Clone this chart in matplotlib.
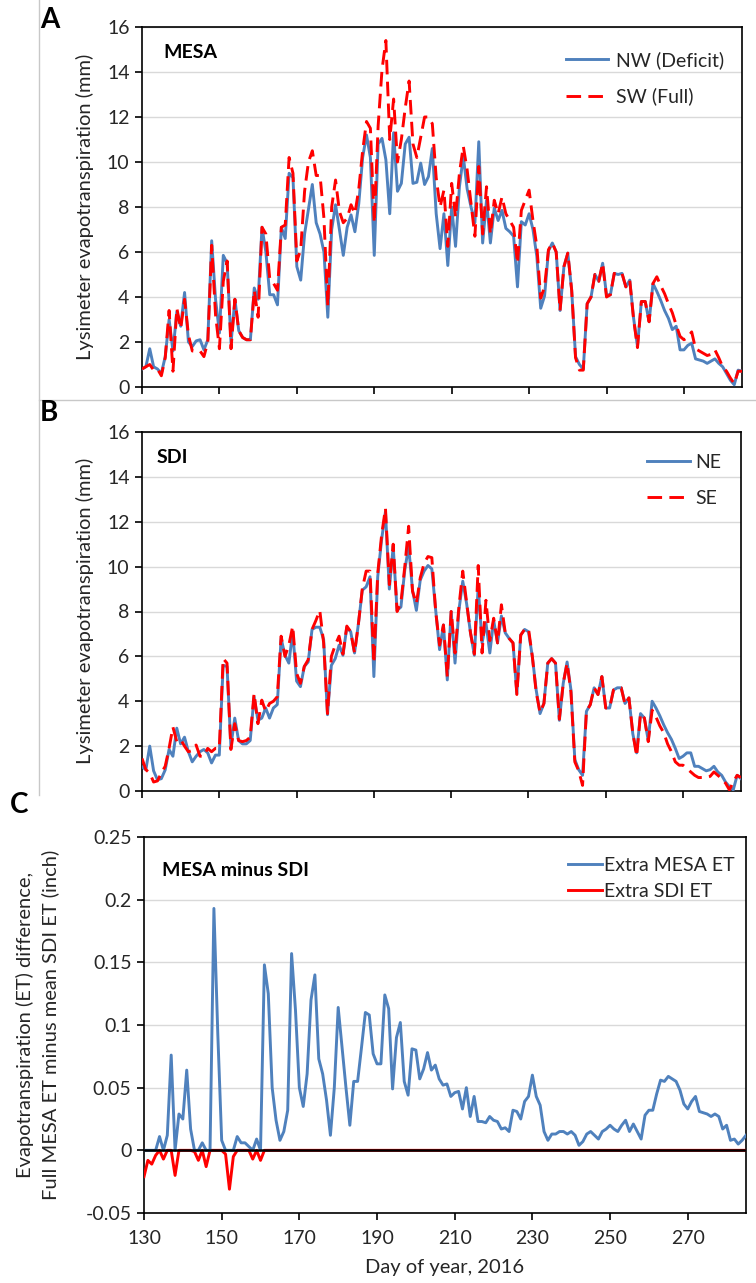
import matplotlib
matplotlib.use("Agg")
import numpy as np
import matplotlib.pyplot as plt
from matplotlib.lines import Line2D

# day of year 130..285
days = list(range(130, 286))

# panel A, MESA lysimeters (mm)
nw_deficit = [
    0.8, 0.9, 1.7, 0.9, 0.8, 0.6, 1.35, 3.0, 1.6, 3.35,
    2.7, 4.2, 2.0, 1.8, 2.05, 2.1, 1.65, 2.1, 6.5, 3.9,
    2.4, 5.85, 5.5, 1.95, 3.9, 2.5, 2.2, 2.1, 2.1, 4.4,
    3.9, 7.1, 6.0, 4.1, 4.1, 3.65, 7.1, 6.6, 9.5, 9.3,
    5.35, 4.75, 6.8, 7.9, 9.0, 7.3, 6.8, 6.0, 3.1, 7.0,
    8.1, 7.0, 5.85, 7.1, 7.65, 6.9, 8.15, 10.2, 11.2, 10.2,
    5.85, 10.8, 11.05, 10.1, 7.7, 11.3, 8.7, 9.05, 10.8, 11.1,
    9.05, 9.1, 9.95, 9.0, 9.35, 10.6, 7.7, 6.15, 7.7, 5.4,
    8.0, 6.25, 8.9, 10.25, 8.8, 8.0, 7.3, 10.9, 6.4, 8.3,
    6.4, 7.95, 7.4, 7.85, 7.05, 6.9, 6.7, 4.45, 7.35, 7.2,
    7.7, 7.0, 5.8, 3.5, 4.05, 6.05, 6.4, 6.0, 3.4, 5.35,
    5.95, 4.3, 1.35, 1.0, 0.8, 3.7, 4.0, 5.0, 4.7, 5.5,
    4.1, 4.1, 5.05, 5.0, 5.05, 4.45, 4.75, 3.05, 1.8, 3.8,
    3.8, 2.9, 4.6, 4.25, 3.85, 3.4, 3.05, 2.55, 2.7, 1.65,
    1.65, 1.85, 1.95, 1.25, 1.2, 1.15, 1.05, 1.15, 1.25, 1.05,
    0.9, 0.6, 0.3, 0.1, 0.75, 0.7]
sw_full = [
    0.8, 0.9, 1.0, 0.75, 0.8, 0.5, 1.3, 3.4, 0.7, 3.5,
    2.6, 3.9, 2.3, 1.6, 1.6, 1.6, 1.35, 2.0, 6.3, 3.2,
    1.7, 4.7, 5.6, 1.7, 3.9, 2.5, 2.2, 2.1, 2.1, 4.3,
    3.1, 7.1, 6.8, 4.8, 4.6, 4.3, 7.1, 7.2, 10.2, 9.5,
    5.6, 6.1, 8.7, 10.0, 10.5, 9.4, 9.4, 7.5, 3.6, 8.0,
    9.2, 7.8, 7.3, 7.5, 8.1, 7.7, 8.8, 10.5, 11.8, 11.5,
    7.3, 11.6, 14.1, 15.4, 11.0, 12.8, 10.0, 11.0, 12.4, 13.6,
    10.8, 10.2, 11.1, 12.0, 12.0, 11.7, 9.3, 8.0, 8.75, 6.25,
    9.05, 7.55, 9.5, 10.7, 9.65, 8.15, 6.7, 9.8, 6.8, 8.9,
    6.8, 8.3, 7.7, 8.45, 7.7, 7.4, 7.1, 5.5, 7.85, 8.3,
    8.75, 7.4, 6.25, 3.95, 4.45, 6.1, 6.4, 6.0, 3.4, 5.35,
    5.95, 4.3, 1.3, 0.75, 0.75, 3.7, 4.0, 5.0, 4.7, 5.5,
    4.0, 4.1, 5.05, 5.0, 5.05, 4.45, 4.75, 3.0, 1.75, 3.8,
    3.8, 2.9, 4.6, 4.9, 4.5, 4.15, 3.7, 3.3, 2.75, 2.25,
    2.1, 2.2, 2.45, 1.7, 1.6, 1.5, 1.4, 1.45, 1.65, 1.3,
    0.9, 0.7, 0.4, 0.15, 0.7, 0.7]

# panel B, SDI lysimeters (mm)
ne = [
    1.08, 0.95, 2.0, 0.9, 0.5, 0.55, 0.94, 1.85, 1.55, 2.8,
    2.1, 2.4, 1.75, 1.3, 1.55, 1.75, 1.85, 1.7, 1.25, 1.6,
    1.6, 5.6, 5.55, 2.0, 3.25, 2.25, 2.1, 2.1, 2.25, 4.2,
    3.15, 3.25, 3.7, 3.25, 3.7, 3.85, 6.8, 6.05, 5.7, 7.1,
    4.9, 4.65, 5.55, 5.75, 7.2, 7.3, 7.3, 6.75, 3.4, 5.6,
    5.9, 6.5, 6.05, 7.3, 7.1, 6.15, 7.45, 8.95, 9.1, 9.55,
    5.1, 9.55, 11.2, 12.45, 9.0, 10.9, 8.05, 8.2, 9.85, 10.9,
    8.95, 8.05, 9.4, 9.8, 10.05, 9.9, 8.05, 6.3, 7.4, 4.95,
    8.0, 5.7, 8.05, 9.35, 8.35, 7.05, 6.05, 9.1, 6.6, 7.5,
    6.15, 7.6, 6.6, 7.8, 7.05, 6.8, 6.6, 4.35, 6.95, 7.2,
    7.1, 6.0, 4.5, 3.45, 3.9, 5.7, 5.9, 5.7, 3.15, 4.8,
    5.75, 4.5, 1.4, 0.95, 0.7, 3.55, 3.85, 4.6, 4.3, 5.1,
    3.7, 3.7, 4.5, 4.6, 4.6, 3.9, 4.15, 2.55, 1.7, 3.45,
    3.25, 2.25, 4.0, 3.7, 3.35, 2.95, 2.6, 2.3, 1.9, 1.45,
    1.55, 1.7, 1.7, 1.1, 1.1, 1.0, 0.9, 0.95, 1.1, 0.85,
    0.7, 0.4, 0.2, 0.05, 0.7, 0.55]
se = [
    1.45, 0.95, 0.8, 0.4, 0.45, 0.8, 1.1, 1.9, 2.85, 2.2,
    2.3, 2.0, 1.75, 1.8, 2.05, 1.55, 1.55, 1.9, 1.75, 1.9,
    1.9, 5.9, 5.7, 1.85, 3.0, 2.25, 2.2, 2.25, 2.4, 4.35,
    3.0, 4.05, 3.55, 3.9, 4.0, 4.2, 6.9, 6.0, 6.5, 7.35,
    5.25, 4.8, 5.55, 5.85, 7.2, 7.6, 8.05, 6.6, 3.45, 6.0,
    6.5, 6.9, 6.1, 7.35, 7.1, 6.15, 7.45, 9.0, 9.8, 9.8,
    5.7, 9.7, 11.4, 12.6, 9.2, 11.0, 8.0, 8.4, 10.0, 11.8,
    8.9, 8.35, 9.5, 10.15, 10.45, 10.4, 8.0, 6.5, 7.4, 5.1,
    8.0, 6.15, 8.2, 9.8, 8.4, 7.05, 6.1, 10.05, 6.15, 8.5,
    6.7, 7.7, 6.6, 8.3, 7.05, 6.8, 6.6, 4.3, 6.95, 7.2,
    7.25, 6.0, 4.4, 3.5, 3.9, 5.7, 5.9, 5.7, 3.2, 4.8,
    5.7, 4.4, 1.3, 0.9, 0.25, 3.55, 3.85, 4.6, 4.3, 5.1,
    3.7, 3.7, 4.5, 4.6, 4.6, 3.85, 4.15, 2.6, 1.55, 3.45,
    3.25, 2.2, 3.6, 3.3, 2.9, 2.6, 2.1, 1.75, 1.3, 1.15,
    1.15, 1.0, 0.85, 0.7, 0.6, 0.6, 0.6, 0.65, 0.85, 0.7,
    0.55, 0.35, 0.05, 0.4, 0.7, 0.6]

# panel C, full MESA minus mean SDI (inch)
diff_inch = [
    -0.021, -0.008, -0.011, -0.004, 0.011, -0.007, 0.012, 0.076, -0.020, 0.029,
    0.025, 0.064, 0.017, -0.001, -0.008, 0.006, -0.013, 0.0, 0.193, 0.093,
    0.008, -0.003, -0.031, -0.005, 0.011, 0.006, 0.006, 0.003, -0.007, 0.009,
    -0.008, 0.148, 0.125, 0.050, 0.024, 0.008, 0.015, 0.032, 0.157, 0.112,
    0.050, 0.035, 0.061, 0.120, 0.140, 0.073, 0.061, 0.040, 0.012, 0.050,
    0.114, 0.082, 0.050, 0.020, 0.055, 0.055, 0.082, 0.110, 0.108, 0.077,
    0.069, 0.069, 0.124, 0.113, 0.049, 0.090, 0.102, 0.055, 0.044, 0.081,
    0.080, 0.057, 0.065, 0.078, 0.064, 0.068, 0.057, 0.052, 0.053, 0.043,
    0.046, 0.047, 0.033, 0.050, 0.027, 0.043, 0.023, 0.023, 0.022, 0.027,
    0.024, 0.023, 0.017, 0.018, 0.015, 0.032, 0.031, 0.025, 0.039, 0.043,
    0.060, 0.043, 0.036, 0.015, 0.008, 0.013, 0.013, 0.015, 0.015, 0.013,
    0.015, 0.012, 0.004, 0.007, 0.013, 0.015, 0.012, 0.009, 0.015, 0.017,
    0.020, 0.017, 0.015, 0.020, 0.024, 0.015, 0.021, 0.015, 0.009, 0.028,
    0.032, 0.032, 0.045, 0.056, 0.055, 0.059, 0.057, 0.055, 0.048, 0.037,
    0.033, 0.039, 0.043, 0.031, 0.030, 0.029, 0.027, 0.029, 0.027, 0.017,
    0.020, 0.008, 0.009, 0.005, 0.008, 0.012]

extra_mesa = np.clip(diff_inch, 0, None)
extra_sdi = np.clip(diff_inch, None, 0)

BLUE = "#4F81BD"
RED = "#FF0000"
GRID = "#D9D9D9"
TXT = "#262626"
FS = 14
DASH = (0, (5, 2.5))

plt.rcParams["font.family"] = ["Lato", "DejaVu Sans"]
plt.rcParams["font.size"] = FS

W, H = 756, 1283
fig = plt.figure(figsize=(W / 100, H / 100), dpi=100)


def px_axes(left, top, right, bottom):
    return fig.add_axes([left / W, 1 - bottom / H, (right - left) / W, (bottom - top) / H])


def fx(x):
    return x / W


def fy(y):
    return 1 - y / H


def style(ax, yticks, ylim, show_xlabels):
    ax.set_xlim(130, 285)
    ax.set_ylim(*ylim)
    ax.set_xticks(range(130, 271, 20))
    ax.set_yticks(yticks)
    ax.grid(axis="y", color=GRID, lw=1.0)
    ax.set_axisbelow(True)
    for s in ax.spines.values():
        s.set_color("black")
        s.set_linewidth(1.2)
    ax.tick_params(axis="both", direction="out", length=5, width=1.2,
                   colors="black", labelcolor=TXT, labelsize=FS)
    ax.tick_params(axis="y", pad=4)
    ax.tick_params(axis="x", pad=7)
    if not show_xlabels:
        ax.tick_params(axis="x", labelbottom=False)


# ---- panel A
axA = px_axes(142, 27, 742, 387)
style(axA, range(0, 17, 2), (0, 16), False)
axA.plot(days, nw_deficit, color=BLUE, lw=2.1, label="NW (Deficit)", zorder=3)
axA.plot(days, sw_full, color=RED, lw=2.1, ls=DASH, label="SW (Full)", zorder=4)
axA.text(0.035, 0.93, "MESA", transform=axA.transAxes, fontsize=FS,
         fontweight="bold", va="center", ha="left", color="black")
axA.legend(loc="upper left", bbox_to_anchor=(0.69, 0.96), frameon=False,
           handlelength=2.2, handletextpad=0.4, labelspacing=0.95, borderpad=0,
           fontsize=FS, labelcolor=TXT)

# ---- panel B
axB = px_axes(142, 432, 741, 791)
style(axB, range(0, 17, 2), (0, 16), False)
axB.plot(days, ne, color=BLUE, lw=2.1, label="NE", zorder=3)
axB.plot(days, se, color=RED, lw=2.1, ls=DASH, label="SE", zorder=4)
axB.text(0.025, 0.93, "SDI", transform=axB.transAxes, fontsize=FS,
         fontweight="bold", va="center", ha="left", color="black")
axB.legend(loc="upper left", bbox_to_anchor=(0.827, 0.965), frameon=False,
           handlelength=2.2, handletextpad=0.3, labelspacing=0.95, borderpad=0,
           fontsize=FS, labelcolor=TXT)

# ---- panel C
axC = px_axes(144, 837, 746, 1213)
yt = [-0.05, 0, 0.05, 0.1, 0.15, 0.2, 0.25]
style(axC, yt, (-0.05, 0.25), True)
axC.set_yticklabels(["-0.05", "0", "0.05", "0.1", "0.15", "0.2", "0.25"])
axC.plot(days, extra_sdi, color=RED, lw=2.1, label="Extra SDI ET", zorder=3)
axC.plot(days, extra_mesa, color=BLUE, lw=2.1, label="Extra MESA ET", zorder=3)
axC.axhline(0, color="black", lw=1.8, zorder=4)
axC.text(0.03, 0.91, "MESA minus SDI", transform=axC.transAxes, fontsize=FS,
         fontweight="bold", va="center", ha="left", color="black")
hC = [Line2D([], [], color=BLUE, lw=2.1), Line2D([], [], color=RED, lw=2.1)]
axC.legend(hC, ["Extra MESA ET", "Extra SDI ET"], loc="upper left",
           bbox_to_anchor=(0.688, 0.972), frameon=False, handlelength=1.75,
           handletextpad=0.1, labelspacing=0.45, borderpad=0, fontsize=FS,
           labelcolor=TXT)

# axis titles
fig.text(fx(85), fy(207), "Lysimeter evapotranspiration (mm)", rotation=90,
         ha="center", va="center", fontsize=14.5, color=TXT)
fig.text(fx(85), fy(611), "Lysimeter evapotranspiration (mm)", rotation=90,
         ha="center", va="center", fontsize=14.5, color=TXT)
fig.text(fx(25), fy(1025), "Evapotranspiration (ET) difference,", rotation=90,
         ha="center", va="center", fontsize=14.5, color=TXT)
fig.text(fx(50), fy(1025), "Full MESA ET minus mean SDI ET (inch)", rotation=90,
         ha="center", va="center", fontsize=14.5, color=TXT)
fig.text(fx(445), fy(1267), "Day of year, 2016", ha="center", va="center",
         fontsize=14.5, color=TXT)

# panel letters
fig.text(fx(40), fy(20), "A", fontsize=20, fontweight="bold", ha="left", va="center")
fig.text(fx(40), fy(413), "B", fontsize=20, fontweight="bold", ha="left", va="center")
fig.text(fx(10), fy(805), "C", fontsize=20, fontweight="bold", ha="left", va="center")

# thin frame lines left over from the pasted panels
fig.add_artist(Line2D([fx(39), fx(39)], [fy(0), fy(795)], color="#C8C8C8", lw=1.0))
fig.add_artist(Line2D([fx(39), fx(756)], [fy(400), fy(400)], color="#C8C8C8", lw=1.0))

fig.savefig("out.png", dpi=100)
